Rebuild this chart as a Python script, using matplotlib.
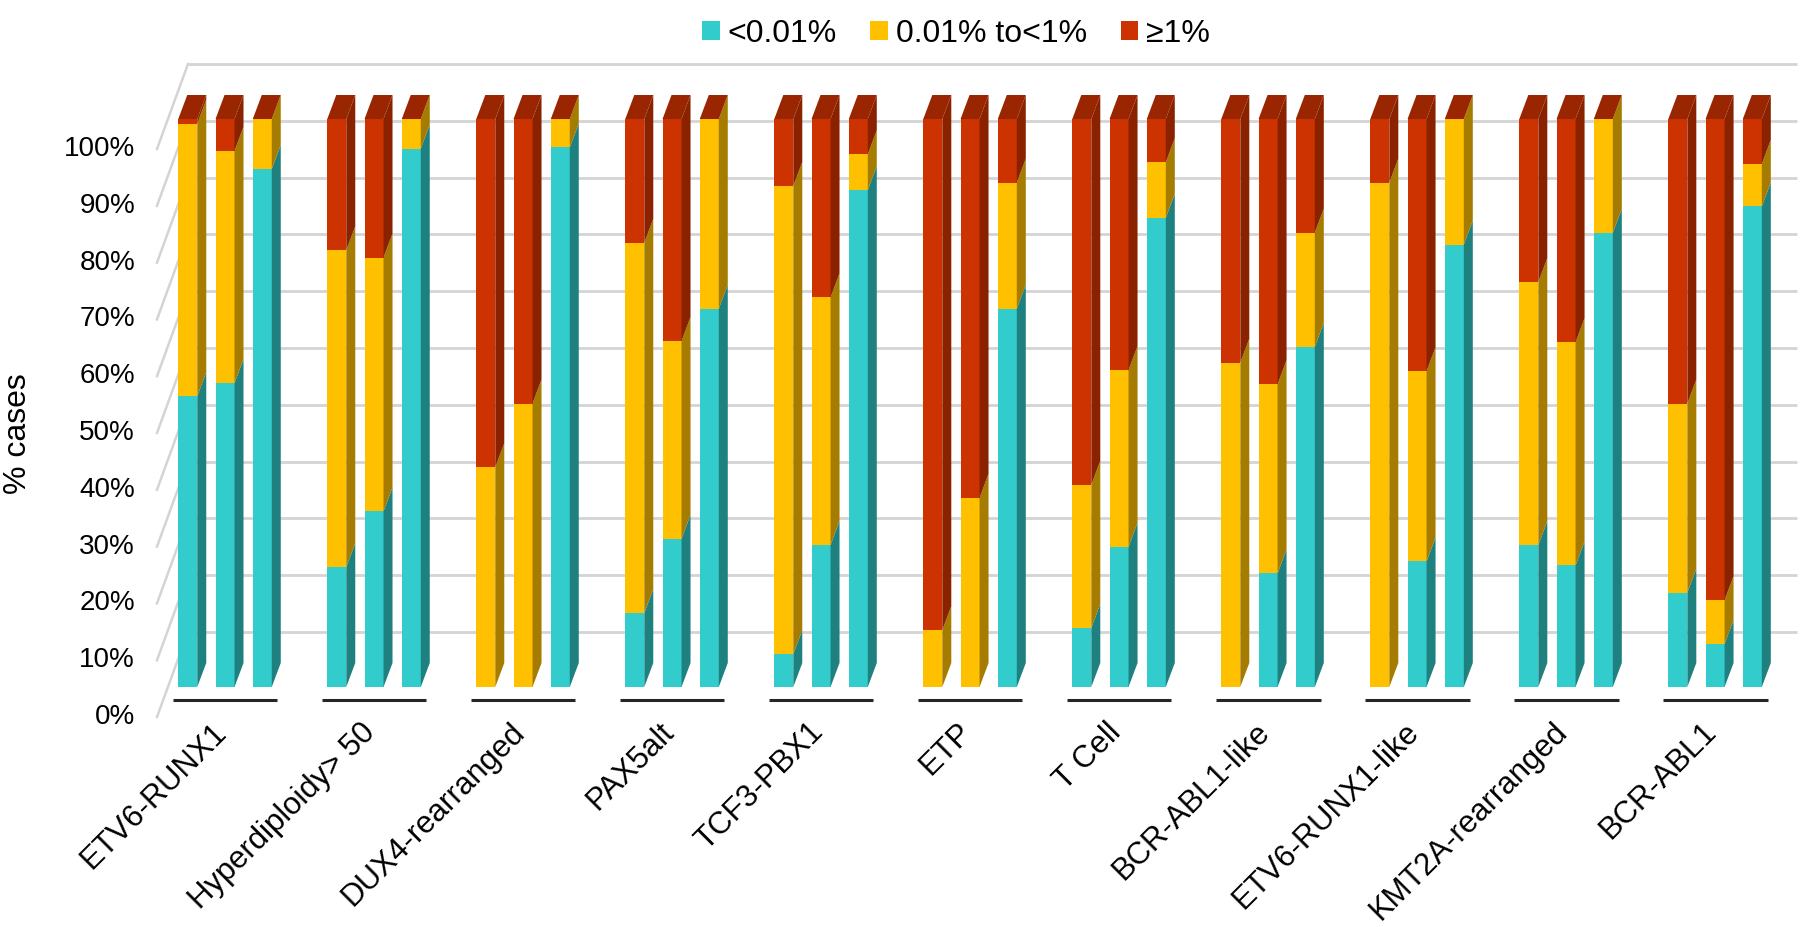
import numpy as np
import matplotlib.pyplot as plt
from matplotlib.patches import Polygon, Patch

plt.rcParams['font.family'] = ['Liberation Sans', 'DejaVu Sans']

# 数据: 每组三根柱子 (百分比)
categories = ['ETV6-RUNX1', 'Hyperdiploidy> 50', 'DUX4-rearranged', 'PAX5alt',
              'TCF3-PBX1', 'ETP', 'T Cell', 'BCR-ABL1-like', 'ETV6-RUNX1-like',
              'KMT2A-rearranged', 'BCR-ABL1']
low_pct = [[51.2, 53.5, 91.2], [21.1, 30.9, 94.8], [0, 0, 95.0], [13.0, 26.1, 66.6],
           [5.8, 25.0, 87.5], [0, 0, 66.6], [10.4, 24.7, 82.6], [0, 20.0, 59.9],
           [0, 22.1, 77.9], [25.0, 21.4, 80.0], [16.6, 7.6, 84.6]]
mid_pct = [[48.0, 40.9, 8.8], [55.8, 44.7, 5.2], [38.7, 49.9, 5.0], [65.2, 34.8, 33.4],
           [82.4, 43.6, 6.3], [10.0, 33.3, 22.2], [25.2, 31.1, 9.8], [57.1, 33.3, 20.1],
           [88.8, 33.5, 22.1], [46.3, 39.3, 20.0], [33.3, 7.7, 7.5]]
high_pct = [[0.8, 5.6, 0], [23.1, 24.4, 0], [61.3, 50.1, 0], [21.8, 39.1, 0],
            [11.8, 31.4, 6.2], [90.0, 66.7, 11.2], [64.4, 44.2, 7.6], [42.9, 46.7, 20.0],
            [11.2, 44.4, 0], [28.7, 39.3, 0], [50.1, 84.7, 7.9]]
series_names = ['<0.01%', '0.01% to<1%', '≥1%']
yticks = list(range(0, 101, 10))

front_colors = ['#33CCCC', '#FFC000', '#CC3300']
side_colors = ['#1F8080', '#A67C00', '#8A2200']
top_color = '#992600'
grid_color = '#D4D4D4'

# 3D 效果参数 (数据单位)
bar_w = 0.1275
pitch = 0.25
dep_x, dep_y = 0.0604, 4.23      # 柱子厚度
wall_dx, wall_dy = 0.134, 9.68   # 后墙偏移
front_dx, front_dy = 0.074, 5.28 # 前沿偏移
wall_left, wall_right = -0.3826, 10.416

fig = plt.figure(figsize=(18, 9.27), dpi=100)
ax = fig.add_axes([0, 0.2589, 1, 0.6127])
ax.set_xlim(-1.5101, 10.570)
ax.set_ylim(0, 100)
ax.axis('off')

# 后墙网格线和左墙斜线
for p in yticks:
    ax.plot([wall_left + wall_dx, wall_right + wall_dx], [p + wall_dy] * 2,
            color=grid_color, lw=2.0, zorder=1, clip_on=False, solid_capstyle='butt')
    ax.plot([wall_left + wall_dx, wall_left - front_dx], [p + wall_dy, p - front_dy],
            color=grid_color, lw=1.8, zorder=1, clip_on=False)
    ax.text(-0.604, p - front_dy, f'{p}%', ha='right', va='center', fontsize=20)

# 柱子
n = len(categories)
x_left = np.array([g + (j - 1) * pitch - bar_w / 2 for g in range(n) for j in range(3)])
series = [np.array(low_pct).ravel(), np.array(mid_pct).ravel(), np.array(high_pct).ravel()]
bottom = np.zeros(len(x_left))
for s, vals in enumerate(series):
    ax.bar(x_left, vals, width=bar_w, bottom=bottom, align='edge',
           color=front_colors[s], linewidth=0, zorder=3, clip_on=False)
    for x0, b, v in zip(x_left, bottom, vals):
        if v > 0:
            x1 = x0 + bar_w
            ax.add_patch(Polygon([(x1, b), (x1 + dep_x, b + dep_y),
                                  (x1 + dep_x, b + v + dep_y), (x1, b + v)],
                                 closed=True, facecolor=side_colors[s], lw=0,
                                 zorder=3, clip_on=False))
    bottom = bottom + vals

for x0, top in zip(x_left, bottom):
    x1 = x0 + bar_w
    ax.add_patch(Polygon([(x0, top), (x1, top), (x1 + dep_x, top + dep_y),
                          (x0 + dep_x, top + dep_y)],
                         closed=True, facecolor=top_color, lw=0, zorder=3, clip_on=False))

# 分组下方黑线和类别标签
for g, cat in enumerate(categories):
    ax.plot([g - 0.352, g + 0.352], [-2.29, -2.29], color='#262626', lw=2.2,
            clip_on=False, solid_capstyle='butt')
    ax.text(g - 0.09, -5.3, cat, rotation=45, ha='right', va='top',
            rotation_mode='anchor', fontsize=22.3)

fig.text(18 / 1800, 1 - 434 / 927, '% cases', rotation=90, ha='center', va='center',
         fontsize=23)

handles = [Patch(facecolor=c, edgecolor='none') for c in front_colors]
fig.legend(handles, series_names, loc='center', bbox_to_anchor=(956 / 1800, 1 - 34 / 927),
           ncol=3, frameon=False, fontsize=23, handlelength=0.55, handleheight=0.55,
           handletextpad=0.25, columnspacing=1.05)

fig.savefig('out.png', dpi=100)
